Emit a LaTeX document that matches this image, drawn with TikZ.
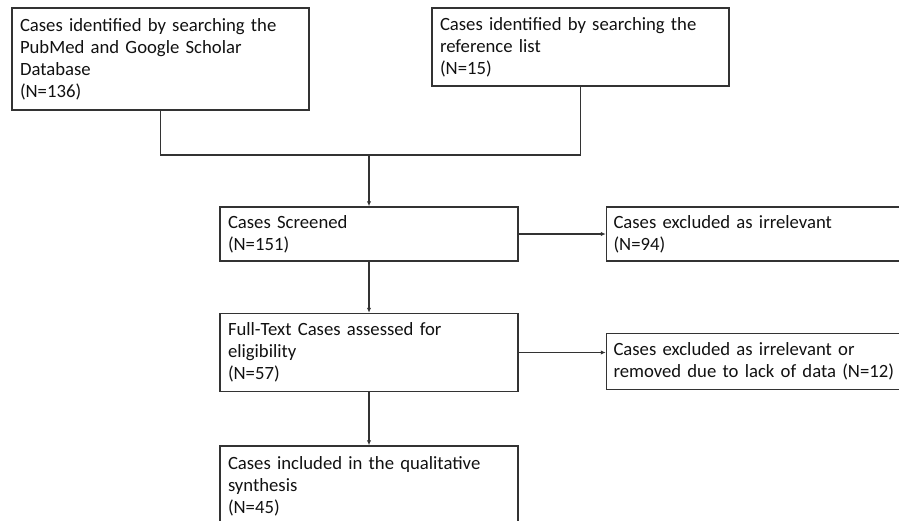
\documentclass[tikz,border=0pt]{standalone}
\usepackage{fontspec}
\setmainfont{Carlito}
\usepackage{xcolor}
\usetikzlibrary{arrows.meta,positioning}
\definecolor{edge}{HTML}{333333}
\definecolor{ink}{HTML}{111111}

\begin{document}
\begin{tikzpicture}[
  x=1pt, y=-1pt,
  font=\fontsize{18.7}{22}\selectfont, text=ink,
  box/.style={draw=edge,line width=1.5pt,inner xsep=8pt,inner ysep=0pt,align=left,text width=#1},
  box/.default=282pt,
  side/.style={box=284pt,inner xsep=7pt},
  ln/.style={edge,line width=1.5pt},
  ar/.style={-{Latex[length=5pt,width=4.5pt]},edge,line width=1.5pt}
]
\useasboundingbox (0,0) rectangle (899,520);
\clip (0,0) rectangle (899,520);
\node[box=281pt,minimum height=102pt] (pubmed) at (160.5,59) {Cases identified by searching the\\PubMed and Google Scholar\\Database\\(N=136)};
\node[box=281pt,minimum height=78pt] (reflist) at (580.5,47) {Cases identified by searching the\\reference list\\(N=15)};
\coordinate (merge) at (369,155);
\node[box,minimum height=54pt] (screened) at (369,234) {Cases Screened\\(N=151)};
\node[side,minimum height=54pt,right=87pt of screened] (excl1) {Cases excluded as irrelevant\\(N=94)};
\node[box,minimum height=78pt,below=51pt of screened] (fulltext) {Full-Text Cases assessed for\\eligibility\\(N=57)};
\node[side,minimum height=56pt,right=87pt of fulltext,yshift=-9pt] (excl2) {Cases excluded as irrelevant or\\removed due to lack of data (N=12)};
\node[box,minimum height=80pt,below=53pt of fulltext] (included) {Cases included in the qualitative\\synthesis\\(N=45)};
\draw[ln] (pubmed.south) |- (reflist.south |- merge) -- (reflist.south);
\draw[ar] (merge) -- (screened.north);
\draw[ar] (screened.east) -- (screened.east -| excl1.west);
\draw[ar] (screened) -- (fulltext);
\draw[ar] (fulltext.east) -- (fulltext.east -| excl2.west);
\draw[ar] (fulltext) -- (included);
\end{tikzpicture}
\end{document}
